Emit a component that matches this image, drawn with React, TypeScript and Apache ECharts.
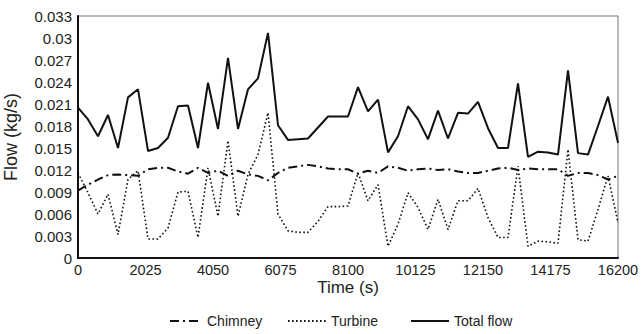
import React, { useEffect, useRef } from "react";
import * as echarts from "echarts";

const times = [
  0, 300, 600, 900, 1200, 1500, 1800, 2100, 2400, 2700,
  3000, 3300, 3600, 3900, 4200, 4500, 4800, 5100, 5400, 5700,
  6000, 6300, 6600, 6900, 7200, 7500, 7800, 8100, 8400, 8700,
  9000, 9300, 9600, 9900, 10200, 10500, 10800, 11100, 11400, 11700,
  12000, 12300, 12600, 12900, 13200, 13500, 13800, 14100, 14400, 14700,
  15000, 15300, 15600, 15900, 16200,
];

const chimney = [
  0.0092, 0.0100, 0.0107, 0.0113, 0.0114, 0.0113, 0.0112, 0.0121, 0.0123, 0.0123,
  0.0118, 0.0115, 0.0123, 0.0116, 0.0119, 0.0112, 0.0119, 0.0114, 0.0112, 0.0106,
  0.0116, 0.0123, 0.0125, 0.0127, 0.0125, 0.0122, 0.0121, 0.0121, 0.0115, 0.0119,
  0.0116, 0.0125, 0.0123, 0.0119, 0.0121, 0.0122, 0.0120, 0.0121, 0.0118, 0.0116,
  0.0116, 0.0119, 0.0122, 0.0123, 0.0120, 0.0122, 0.0121, 0.0121, 0.0121, 0.0112,
  0.0116, 0.0116, 0.0113, 0.0107, 0.0112,
];

const turbine = [
  0.0116, 0.0089, 0.0060, 0.0087, 0.0032, 0.0107, 0.0119, 0.0026, 0.0026, 0.0041,
  0.0090, 0.0091, 0.0028, 0.0123, 0.0057, 0.0160, 0.0057, 0.0114, 0.0141, 0.0198,
  0.0060, 0.0037, 0.0035, 0.0035, 0.0050, 0.0070, 0.0070, 0.0071, 0.0116, 0.0078,
  0.0100, 0.0016, 0.0046, 0.0089, 0.0069, 0.0039, 0.0080, 0.0039, 0.0078, 0.0078,
  0.0095, 0.0055, 0.0028, 0.0028, 0.0125, 0.0016, 0.0023, 0.0022, 0.0020, 0.0148,
  0.0025, 0.0023, 0.0066, 0.0112, 0.0048,
];

const totalFlow = [
  0.0205, 0.0189, 0.0166, 0.0195, 0.0150, 0.0219, 0.0230, 0.0146, 0.0150, 0.0164,
  0.0207, 0.0208, 0.0150, 0.0239, 0.0176, 0.0273, 0.0176, 0.0230, 0.0245, 0.0307,
  0.0181, 0.0161, 0.0162, 0.0163, 0.0178, 0.0193, 0.0193, 0.0193, 0.0233, 0.0200,
  0.0216, 0.0144, 0.0166, 0.0207, 0.0189, 0.0162, 0.0201, 0.0163, 0.0198, 0.0197,
  0.0213, 0.0177, 0.0150, 0.0150, 0.0238, 0.0138, 0.0145, 0.0144, 0.0141, 0.0256,
  0.0143, 0.0141, 0.0180, 0.0220, 0.0157,
];

const seriesNames = ["Chimney", "Turbine", "Total flow"];

const FONT = "'Liberation Sans', Arial, sans-serif";

export default function App() {
  const ref = useRef<HTMLDivElement>(null);

  useEffect(() => {
    if (!ref.current) return;
    const chart = echarts.init(ref.current, undefined, { renderer: "svg" });
    const pairs = (vals: number[]) => vals.map((v, i) => [times[i], v]);
    const legendText = { fontSize: 14, color: "#222", fontFamily: FONT };
    const legendBase = {
      top: 309,
      itemHeight: 14,
      textStyle: legendText,
      itemStyle: { opacity: 0, borderWidth: 0 },
    };
    chart.setOption({
      animation: false,
      backgroundColor: "#fff",
      textStyle: { fontFamily: FONT },
      grid: {
        left: 78,
        right: 23,
        top: 16,
        bottom: 76,
        show: true,
        borderColor: "#777",
        borderWidth: 1,
        outerBoundsMode: "none",
        containLabel: false,
      },
      legend: [
        { ...legendBase, data: [seriesNames[0]], left: 164, itemWidth: 32 },
        { ...legendBase, data: [seriesNames[1]], left: 282, itemWidth: 38 },
        { ...legendBase, data: [seriesNames[2]], left: 405, itemWidth: 38 },
      ],
      xAxis: {
        type: "value",
        min: 0,
        max: 16200,
        interval: 2025,
        name: "Time (s)",
        nameLocation: "middle",
        nameGap: 21,
        nameMoveOverlap: false,
        nameTextStyle: { fontSize: 17, color: "#222", fontFamily: FONT },
        axisLine: { show: true, lineStyle: { color: "#111", width: 2 } },
        axisTick: { show: false },
        splitLine: { show: false },
        axisLabel: {
          fontSize: 14.5,
          color: "#222",
          margin: 4,
          fontFamily: FONT,
          formatter: (v: number) => String(v),
        },
      },
      yAxis: {
        type: "value",
        min: 0,
        max: 0.033,
        interval: 0.003,
        name: "Flow (kg/s)",
        nameLocation: "middle",
        nameGap: 58,
        nameMoveOverlap: false,
        nameTextStyle: { fontSize: 18, color: "#222", fontFamily: FONT },
        axisLine: { show: true, lineStyle: { color: "#111", width: 2 } },
        axisTick: { show: false },
        splitLine: { show: false },
        axisLabel: {
          fontSize: 15,
          color: "#222",
          margin: 6,
          fontFamily: FONT,
          formatter: (v: number) => String(parseFloat(v.toFixed(3))),
        },
      },
      series: [
        {
          name: seriesNames[0],
          type: "line",
          data: pairs(chimney),
          showSymbol: false,
          symbol: "none",
          lineStyle: { color: "#111", width: 2, type: [9, 4, 2, 4] },
          itemStyle: { color: "#111" },
          z: 3,
        },
        {
          name: seriesNames[1],
          type: "line",
          data: pairs(turbine),
          showSymbol: false,
          symbol: "none",
          lineStyle: { color: "#111", width: 1.6, type: [1.6, 2.4] },
          itemStyle: { color: "#111" },
          z: 2,
        },
        {
          name: seriesNames[2],
          type: "line",
          data: pairs(totalFlow),
          showSymbol: false,
          symbol: "none",
          lineStyle: { color: "#111", width: 2 },
          itemStyle: { color: "#111" },
          z: 4,
        },
      ],
    });
    return () => chart.dispose();
  }, []);

  return (
    <div
      ref={ref}
      style={{ position: "fixed", left: 0, top: 0, width: 641, height: 334 }}
    />
  );
}
